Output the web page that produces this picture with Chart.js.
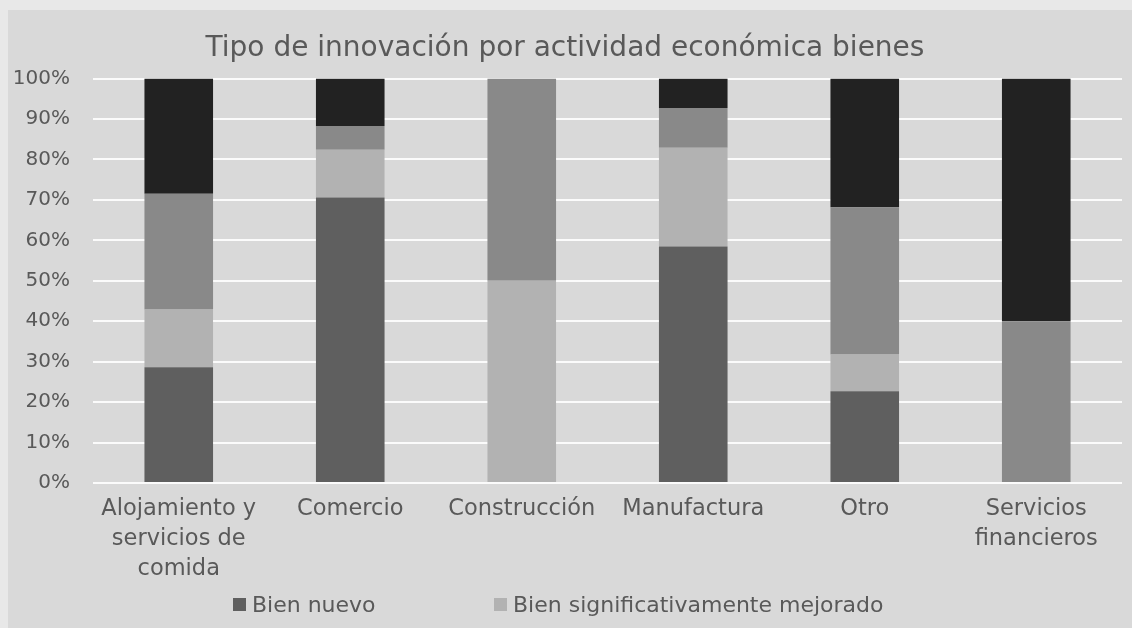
<!DOCTYPE html>
<html>
<head>
<meta charset="utf-8">
<script src="https://cdn.jsdelivr.net/npm/chart.js@4.4.1/dist/chart.umd.min.js"></script>
<style>
  html, body { margin: 0; padding: 0; background: #e8e8e8; width: 1132px; height: 628px; overflow: hidden; }
  #panel { position: absolute; left: 8px; top: 10px; width: 1124px; height: 618px; background: #d9d9d9; }
  #c { position: absolute; left: 0; top: 0; }
  .lg { position: absolute; font-family: "DejaVu Sans", sans-serif; font-size: 22px; color: #595959; line-height: 26px; white-space: nowrap; }
  .lg span.box { display: inline-block; width: 13px; height: 13px; vertical-align: middle; margin-right: 6px; position: relative; top: -2px; }
</style>
</head>
<body>
<div id="panel">
  <canvas id="c" width="1124" height="618"></canvas>
  <div id="legend"></div>
</div>
<script>
// ---- data ----
const chartTitle = "Tipo de innovación por actividad económica bienes";
const categories = [
  ["Alojamiento y", "servicios de", "comida"],
  "Comercio",
  "Construcción",
  "Manufactura",
  "Otro",
  ["Servicios", "financieros"]
];
const seriesNames = ["Bien nuevo", "Bien significativamente mejorado", "Ambos", "Otros"];
const bienNuevo      = [28.6, 70.6,  0.0, 58.5, 22.7,  0.0];
const bienMejorado   = [14.3, 11.8, 50.0, 24.4,  9.1,  0.0];
const serie3         = [28.6,  5.9, 50.0,  9.8, 36.4, 40.0];
const serie4         = [28.5, 11.7,  0.0,  7.3, 31.8, 60.0];
const yTicks = [0, 10, 20, 30, 40, 50, 60, 70, 80, 90, 100];
const legendShown = [0, 1];

// ---- styles ----
const colors = ["#5f5f5f", "#b2b2b2", "#898989", "#222222"];
const textColor = "#595959";
const fontFamily = "'DejaVu Sans', sans-serif";

const values = [bienNuevo, bienMejorado, serie3, serie4];
const datasets = values.map((v, i) => ({
  label: seriesNames[i],
  data: v,
  backgroundColor: colors[i],
  borderWidth: 0,
  barPercentage: 0.4,
  categoryPercentage: 1.0
}));

new Chart(document.getElementById("c"), {
  type: "bar",
  data: { labels: categories, datasets },
  options: {
    responsive: false,
    animation: false,
    layout: { padding: { left: 0, right: 10, top: 0, bottom: 45 } },
    plugins: {
      legend: { display: false },
      tooltip: { enabled: false },
      title: {
        display: true,
        text: chartTitle,
        color: textColor,
        font: { family: fontFamily, size: 28, weight: "normal", lineHeight: 1.2 },
        padding: { top: 22, bottom: 13 }
      }
    },
    scales: {
      x: {
        stacked: true,
        grid: { display: false, drawTicks: false },
        border: { display: false },
        ticks: {
          color: textColor,
          padding: 11,
          maxRotation: 0,
          autoSkip: false,
          font: { family: fontFamily, size: 22.5, lineHeight: "30px" }
        },
        afterFit: (s) => { s.height = 100; }
      },
      y: {
        stacked: true,
        min: 0,
        max: 100,
        afterBuildTicks: (s) => { s.ticks = yTicks.map(v => ({ value: v })); },
        grid: { color: "#fbfbfb", lineWidth: 2, drawTicks: false },
        border: { display: false },
        ticks: {
          color: textColor,
          padding: 23,
          font: { family: fontFamily, size: 20 },
          callback: (v) => v + "%"
        },
        afterFit: (s) => { s.width = 85; }
      }
    }
  }
});

// legend (two entries shown, as in the reference)
const legendPos = [{ left: 225, top: 582 }, { left: 486, top: 582 }];
const lg = document.getElementById("legend");
legendShown.forEach((idx, k) => {
  const d = document.createElement("div");
  d.className = "lg";
  d.style.left = legendPos[k].left + "px";
  d.style.top = legendPos[k].top + "px";
  d.innerHTML = '<span class="box" style="background:' + colors[idx] + '"></span>' + seriesNames[idx];
  lg.appendChild(d);
});
</script>
</body>
</html>
